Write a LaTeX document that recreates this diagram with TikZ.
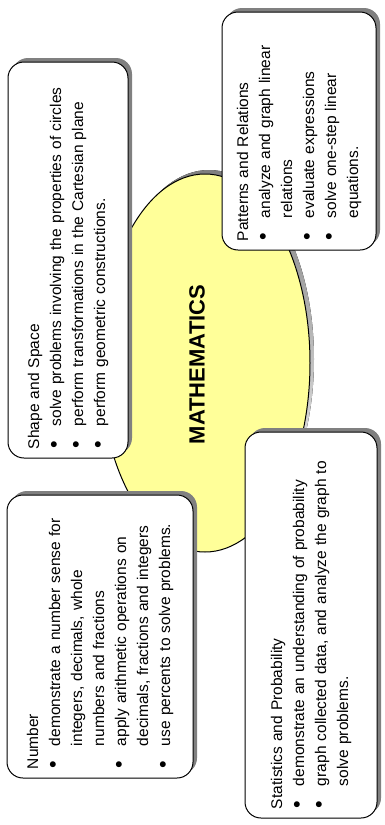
\documentclass[tikz,border=0pt]{standalone}
\usepackage{fontspec}
\setmainfont{Liberation Sans}
\usepackage{graphicx}
\definecolor{ellfill}{HTML}{FFFF99}
\definecolor{shade}{HTML}{808080}
\newcommand{\bitem}{\makebox[23pt][l]{\hspace{0.5pt}\scalebox{1.4}{\textbullet}}}
\newcommand{\cont}{\hspace*{23pt}}
\begin{document}
\begin{tikzpicture}[x=1pt,y=-1pt,
  card/.style={draw=black, fill=white, line width=1pt, rounded corners=16pt, inner sep=0pt},
  cardshadow/.style={fill=shade, rounded corners=16pt, inner sep=0pt},
  cardtext/.style={rotate=90, align=left, inner sep=0pt, font=\fontsize{15.5}{22}\selectfont}]
\useasboundingbox (0,0) rectangle (385,825);
% central ellipse
\fill[shade] (209,359) ellipse [x radius=105, y radius=189];
\filldraw[fill=ellfill, draw=black, line width=1pt] (205,363) ellipse [x radius=105, y radius=189];
\node[rotate=90, inner sep=0pt, font=\bfseries\fontsize{22}{26}\selectfont] (math) at (197,364.5) {MATHEMATICS};
% Shape and Space
\node[cardshadow, minimum width=120pt, minimum height=396pt] (shapesh) at (72,256) {};
\node[card, minimum width=120pt, minimum height=396pt] (shapebox) at (68,260) {};
\node[cardtext, text width=378pt] (shapetext) at (shapebox.center) {Shape and Space\\
\bitem solve problems involving the properties of circles\\
\bitem perform transformations in the Cartesian plane\\
\bitem perform geometric constructions.};
% Patterns and Relations
\node[cardshadow, minimum width=154pt, minimum height=238pt] (pattsh) at (303,127) {};
\node[card, minimum width=154pt, minimum height=238pt] (pattbox) at (299,131) {};
\node[cardtext, text width=220pt] (patttext) at (pattbox.center) {Patterns and Relations\\
\bitem analyze and graph linear\\
\cont relations\\
\bitem evaluate expressions\\
\bitem solve one-step linear\\
\cont equations.};
% Number
\node[cardshadow, minimum width=186pt, minimum height=283pt] (numsh) at (104,632.5) {};
\node[card, minimum width=186pt, minimum height=283pt] (numbox) at (100,636.5) {};
\node[cardtext, text width=265pt] (numtext) at (numbox.center) {Number\\
\bitem demonstrate a number sense for\\
\cont integers, decimals, whole\\
\cont numbers and fractions\\
\bitem apply arithmetic operations on\\
\cont decimals, fractions and integers\\
\bitem use percents to solve problems.};
% Statistics and Probability
\node[cardshadow, minimum width=132pt, minimum height=386pt] (statsh) at (315,621) {};
\node[card, minimum width=132pt, minimum height=386pt] (statbox) at (311,625) {};
\node[cardtext, text width=368pt] (stattext) at (statbox.center) {Statistics and Probability\\
\bitem demonstrate an understanding of probability\\
\bitem graph collected data, and analyze the graph to\\
\cont solve problems.};
\end{tikzpicture}
\end{document}
